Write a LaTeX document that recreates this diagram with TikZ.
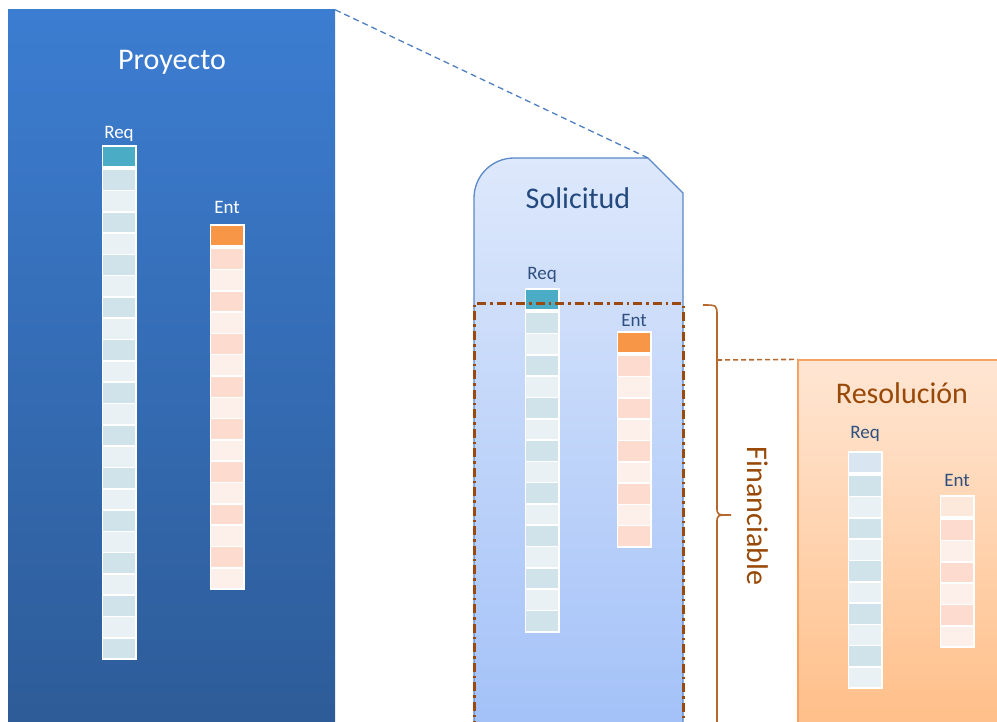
\documentclass[tikz,border=0pt]{standalone}
\usepackage{fontspec}
\setmainfont{Carlito}
\usetikzlibrary{positioning}

\definecolor{proytop}{HTML}{3C7DD1}
\definecolor{proybot}{HTML}{2D5B97}
\definecolor{soltop}{HTML}{DDE8FB}
\definecolor{solbot}{HTML}{A3C1F8}
\definecolor{solline}{HTML}{5B88C6}
\definecolor{restop}{HTML}{FFE6D3}
\definecolor{resbot}{HTML}{FFBE87}
\definecolor{resline}{HTML}{F5A263}
\definecolor{reqdark}{HTML}{D0E2EA}
\definecolor{reqlight}{HTML}{E9F1F4}
\definecolor{entdark}{HTML}{FDDCCF}
\definecolor{entlight}{HTML}{FDEFEA}
\definecolor{reqhead}{HTML}{4BACC6}
\definecolor{enthead}{HTML}{F79646}
\definecolor{reqpale}{HTML}{DAE5F2}
\definecolor{entpale}{HTML}{FDE9DC}
\definecolor{navytext}{HTML}{23497F}
\definecolor{labeltext}{HTML}{2F4F7F}
\definecolor{browntext}{HTML}{984807}
\definecolor{bracecol}{HTML}{B5692E}
\definecolor{finline}{HTML}{9A4A10}
\definecolor{linkblue}{HTML}{4F7FC0}

\tikzset{cell/.style={draw=white,line width=1.6pt,minimum width=33.4pt,minimum height=21.3pt,inner sep=0pt},
  headcell/.style={cell,minimum height=20.5pt},
  collabel/.style={font=\fontsize{19}{22}\selectfont,anchor=base,inner sep=0pt},
  title/.style={font=\fontsize{30}{36}\selectfont,anchor=base,inner sep=0pt}}

% column of cells: name, x, top of header, number of cells, header colour, dark, light
\newcommand{\cellcolumn}[7]{%
  \node[headcell, fill=#5] (#1-0) at (#2,-#3-9.5) {};
  \foreach \i in {1,...,#4} {
    \pgfmathsetmacro{\cy}{#3+22.2+(\i-0.5)*21.3}
    \ifodd\i \def\cf{#6}\else\def\cf{#7}\fi
    \node[cell, fill=\cf] (#1-\i) at (#2,-\cy) {};
  }
  \fill[white] (#1-0.south west) rectangle (#1-1.north east);
}

\begin{document}
\begin{tikzpicture}[x=1pt,y=1pt]
  \useasboundingbox (0,0) rectangle (997,-722);
  \clip (0,0) rectangle (997,-722);

  % Proyecto
  \node[minimum width=327pt, minimum height=725pt, top color=proytop, bottom color=proybot, inner sep=0pt] (proy) at (171.5,-372.5) {};
  \node[title, white] (proytitle) at (172,-70) {Proyecto};

  % Solicitud
  \coordinate (solcut) at (648,-158);
  \path[draw=solline, line width=1.3pt, top color=soltop, bottom color=solbot] (474,-730) -- (474,-198) arc[start angle=180,end angle=90,radius=40] -- (solcut) -- (683,-193) -- (683,-730);
  \node[title, navytext] (soltitle) at (578,-209) {Solicitud};
  \draw[linkblue, line width=1.3pt, dash pattern=on 6pt off 4pt] (proy.north east) -- (solcut);

  % Resolucion
  \node[minimum width=212pt, minimum height=375pt, top color=restop, bottom color=resbot, draw=resline, line width=1.2pt, inner sep=0pt] (resol) at (904,-547.5) {};
  \node[title, browntext] (restitle) at (902,-403) {Resolución};

  % columns
  \cellcolumn{preq}{119}{147}{23}{reqhead}{reqdark}{reqlight}
  \cellcolumn{pent}{227}{226}{16}{enthead}{entdark}{entlight}
  \cellcolumn{sreq}{542}{290}{15}{reqhead}{reqdark}{reqlight}
  \cellcolumn{sent}{634}{333}{9}{enthead}{entdark}{entlight}
  \cellcolumn{rreq}{865}{453}{10}{reqpale}{reqdark}{reqlight}
  \cellcolumn{rent}{957}{497}{6}{entpale}{entdark}{entlight}

  \node[above=7pt of preq-0, collabel, white] (preqlabel) {Req};
  \node[above=11pt of pent-0, collabel, white] (pentlabel) {Ent};
  \node[above=9pt of sreq-0, collabel, labeltext] (sreqlabel) {Req};
  \node[above=5pt of sent-0, collabel, labeltext] (sentlabel) {Ent};
  \node[above=13pt of rreq-0, collabel, labeltext] (rreqlabel) {Req};
  \node[above=9pt of rent-0, collabel, labeltext] (rentlabel) {Ent};

  % financiable part
  \draw[finline, line width=3pt, dash pattern=on 9pt off 4pt on 2.5pt off 4pt] (474,-730) |- (683,-304) -- (683,-730);
  \coordinate (bracetop) at (703,-305);
  \coordinate (bracetip) at (731,-515);
  \draw[bracecol, line width=1.6pt] (bracetop) .. controls (717,-305) .. (717,-316) -- (717,-507) .. controls (717,-515) .. (bracetip) .. controls (717,-515) .. (717,-523) -- (717,-730);
  \coordinate (bracept) at (717,-360);
  \draw[bracecol, line width=1.6pt, dash pattern=on 5pt off 3pt] (bracept) -- (resol.north west);
  \node[title, browntext, rotate=-90, anchor=center] (fintext) at (758,-516) {Financiable};
\end{tikzpicture}
\end{document}
